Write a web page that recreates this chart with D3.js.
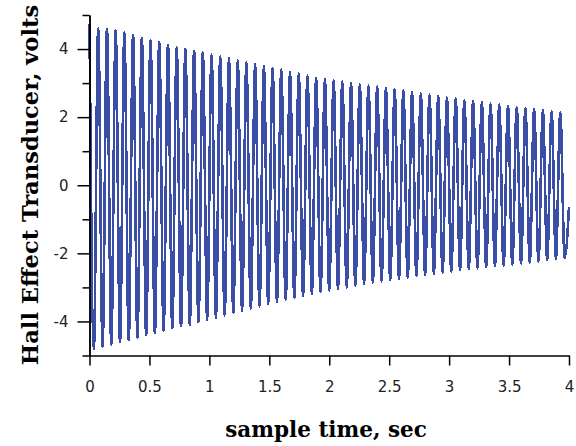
<!DOCTYPE html>
<html>
<head>
<meta charset="utf-8">
<script src="https://cdn.jsdelivr.net/npm/d3@7"></script>
<style>
  body { margin: 0; background: #fff; }
  .tick text { font-family: "DejaVu Sans", sans-serif; font-size: 15px; fill: #222; }
  .domain, .tick line { stroke: #000; stroke-width: 1.5; }
  .title { font-family: "DejaVu Serif", serif; font-weight: bold; font-size: 21.5px; fill: #000; }
</style>
</head>
<body>
<div id="chart"></div>
<script>
// time between a crest and the following trough, sec
const halfPeriod = 4 / 110;

// crest values, volts
const crests = [
  4.75, 4.6, 4.58, 4.55, 4.48, 4.4, 4.33, 4.25, 4.2, 4.12,
  4.05, 4.0, 3.95, 3.9, 3.86, 3.8, 3.74, 3.68, 3.62, 3.56,
  3.5, 3.45, 3.4, 3.33, 3.28, 3.22, 3.16, 3.12, 3.08, 3.05,
  3.0, 2.96, 2.93, 2.9, 2.86, 2.83, 2.78, 2.74, 2.7, 2.66,
  2.62, 2.58, 2.55, 2.5, 2.47, 2.44, 2.4, 2.37, 2.34, 2.3,
  2.27, 2.24, 2.2, 2.17, 2.14
];

// trough values, volts
const troughs = [
  -4.8, -4.75, -4.68, -4.6, -4.55, -4.47, -4.4, -4.33, -4.27, -4.2,
  -4.14, -4.1, -4.02, -3.96, -3.9, -3.83, -3.76, -3.7, -3.63, -3.56,
  -3.5, -3.44, -3.38, -3.32, -3.26, -3.2, -3.14, -3.09, -3.04, -3.0,
  -2.95, -2.9, -2.86, -2.82, -2.79, -2.75, -2.71, -2.67, -2.64, -2.61,
  -2.57, -2.54, -2.5, -2.47, -2.44, -2.41, -2.38, -2.36, -2.33, -2.3,
  -2.27, -2.24, -2.2, -2.17, -2.14
];

// reading at t = 4 s
const lastValue = -0.65;

const xTicks = [0, 0.5, 1, 1.5, 2, 2.5, 3, 3.5, 4];
const yMajorTicks = [-4, -2, 0, 2, 4];
const yMinorTicks = [-5, -3, -1, 1, 3, 5];

const width = 576, height = 446;

const svg = d3.select("#chart")
  .append("svg")
  .attr("width", width)
  .attr("height", height);

const x = d3.scaleLinear().domain([0, 4]).range([89.5, 569]);
const y = d3.scaleLinear().domain([-5, 5]).range([355.5, 15]);

// crest, trough, crest, ... in time order
const samples = [];
crests.forEach((c, i) => {
  samples.push(c);
  samples.push(troughs[i]);
});
samples.push(lastValue);
const data = samples.map((v, i) => ({ t: i * halfPeriod, v: v }));

const line = d3.line()
  .curve(d3.curveMonotoneX)
  .x(d => x(d.t))
  .y(d => y(d.v));

svg.append("path")
  .datum(data)
  .attr("fill", "none")
  .attr("stroke", "#3b4ea6")
  .attr("stroke-width", 2.6)
  .attr("shape-rendering", "crispEdges")
  .attr("d", line);

// x axis
svg.append("g")
  .attr("transform", "translate(0," + y(-5) + ")")
  .call(d3.axisBottom(x)
    .tickValues(xTicks)
    .tickSize(10)
    .tickSizeOuter(0)
    .tickPadding(16)
    .tickFormat(d => String(d)));

// y axis, minor ticks
svg.append("g")
  .attr("transform", "translate(" + x(0) + ",0)")
  .call(d3.axisLeft(y)
    .tickValues(yMinorTicks)
    .tickSize(7)
    .tickSizeOuter(0)
    .tickFormat(""));

// y axis, major ticks with labels
svg.append("g")
  .attr("transform", "translate(" + x(0) + ",0)")
  .call(d3.axisLeft(y)
    .tickValues(yMajorTicks)
    .tickSize(12)
    .tickSizeOuter(0)
    .tickPadding(9)
    .tickFormat(d => String(d)));

svg.append("text")
  .attr("class", "title")
  .attr("x", 326)
  .attr("y", 437)
  .style("text-anchor", "middle")
  .text("sample time, sec");

svg.append("text")
  .attr("class", "title")
  .attr("transform", "translate(38,185) rotate(-90)")
  .style("text-anchor", "middle")
  .style("font-size", "22.6px")
  .text("Hall Effect Transducer, volts");
</script>
</body>
</html>
